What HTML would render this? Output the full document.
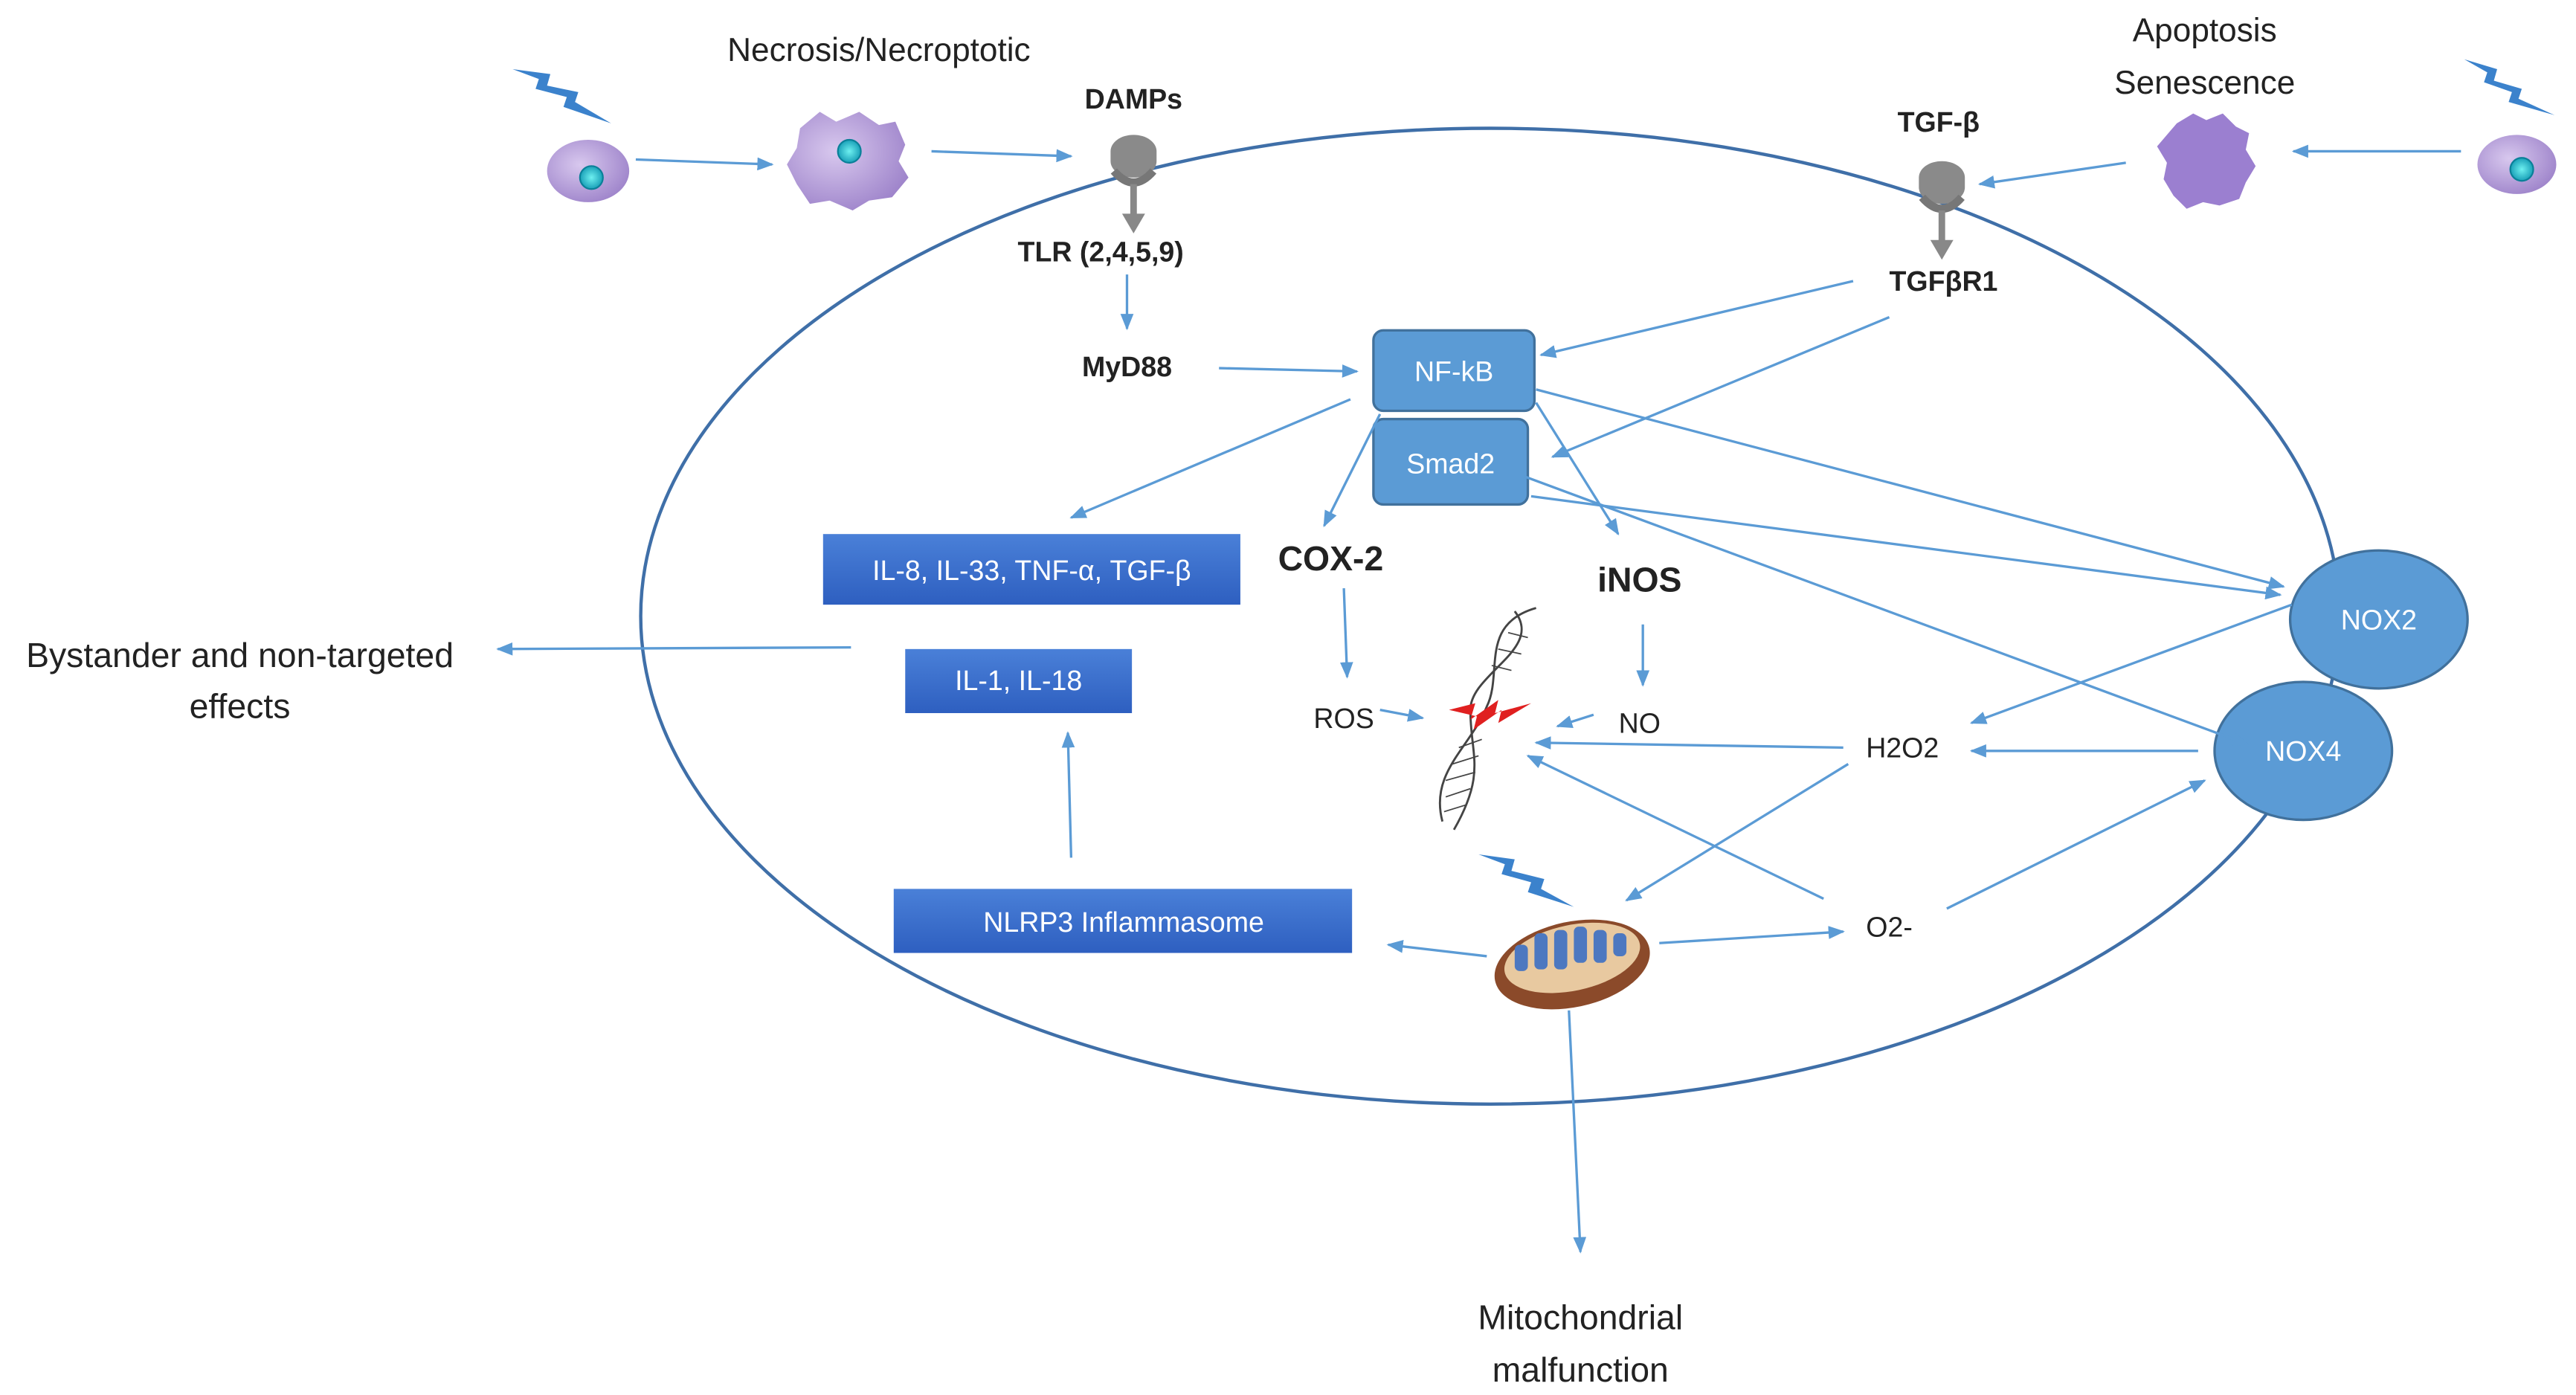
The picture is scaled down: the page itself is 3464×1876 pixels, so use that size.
<!DOCTYPE html>
<html><head><meta charset="utf-8"><style>
html,body{margin:0;padding:0;background:#fff;}
svg{display:block;}
text{font-family:"Liberation Sans","DejaVu Sans",sans-serif;}
</style></head><body>
<svg width="3464" height="1876" viewBox="0 0 1568 849" xmlns="http://www.w3.org/2000/svg">
<defs>
<marker id="a" markerWidth="10" markerHeight="8" refX="9" refY="4" orient="auto" markerUnits="userSpaceOnUse">
<path d="M0,0 L10,4 L0,8 Z" fill="#5b9bd5"/></marker>
<linearGradient id="bx" x1="0" y1="0" x2="0" y2="1"><stop offset="0" stop-color="#4a80d8"/><stop offset="1" stop-color="#2e5fc0"/></linearGradient>
<radialGradient id="cell" cx="0.4" cy="0.4" r="0.7"><stop offset="0" stop-color="#d8c8ee"/><stop offset="1" stop-color="#9a7fc8"/></radialGradient>
<radialGradient id="nuc" cx="0.5" cy="0.5" r="0.5"><stop offset="0" stop-color="#6ef0f0"/><stop offset="1" stop-color="#1aa0b8"/></radialGradient>
</defs>
<rect width="1568" height="849" fill="#fff"/>
<!-- cell membrane -->
<ellipse cx="907" cy="375" rx="517" ry="297" fill="none" stroke="#3f6fa8" stroke-width="2"/>

<!-- boxes -->
<rect x="836" y="201" width="98" height="49" rx="6" fill="#5b9bd5" stroke="#41719c" stroke-width="1.5"/>
<text x="885" y="232" font-size="17" fill="#fff" text-anchor="middle">NF-kB</text>
<rect x="836" y="255" width="94" height="52" rx="6" fill="#5b9bd5" stroke="#41719c" stroke-width="1.5"/>
<text x="883" y="288" font-size="17" fill="#fff" text-anchor="middle">Smad2</text>
<rect x="501" y="325" width="254" height="43" fill="url(#bx)"/>
<text x="628" y="353" font-size="17" fill="#fff" text-anchor="middle">IL-8, IL-33, TNF-α, TGF-β</text>
<rect x="551" y="395" width="138" height="39" fill="url(#bx)"/>
<text x="620" y="420" font-size="17" fill="#fff" text-anchor="middle">IL-1, IL-18</text>
<rect x="544" y="541" width="279" height="39" fill="url(#bx)"/>
<text x="684" y="567" font-size="17" fill="#fff" text-anchor="middle">NLRP3 Inflammasome</text>
<ellipse cx="1448" cy="377" rx="54" ry="42" fill="#5b9bd5" stroke="#41719c" stroke-width="1.5"/>
<text x="1448" y="383" font-size="17" fill="#fff" text-anchor="middle">NOX2</text>
<ellipse cx="1402" cy="457" rx="54" ry="42" fill="#5b9bd5" stroke="#41719c" stroke-width="1.5"/>
<text x="1402" y="463" font-size="17" fill="#fff" text-anchor="middle">NOX4</text>

<!-- texts -->
<g fill="#222">
<text x="535" y="37" font-size="20" text-anchor="middle">Necrosis/Necroptotic</text>
<text x="690" y="66" font-size="17" font-weight="bold" text-anchor="middle">DAMPs</text>
<text x="670" y="159" font-size="17" font-weight="bold" text-anchor="middle">TLR (2,4,5,9)</text>
<text x="686" y="229" font-size="17" font-weight="bold" text-anchor="middle">MyD88</text>
<text x="1180" y="80" font-size="17" font-weight="bold" text-anchor="middle">TGF-β</text>
<text x="1183" y="177" font-size="17" font-weight="bold" text-anchor="middle">TGFβR1</text>
<text x="1342" y="25" font-size="20" text-anchor="middle">Apoptosis</text>
<text x="1342" y="57" font-size="20" text-anchor="middle">Senescence</text>
<text x="810" y="347" font-size="21" font-weight="bold" text-anchor="middle">COX-2</text>
<text x="998" y="360" font-size="21" font-weight="bold" text-anchor="middle">iNOS</text>
<text x="818" y="443" font-size="17" text-anchor="middle">ROS</text>
<text x="998" y="446" font-size="17" text-anchor="middle">NO</text>
<text x="1158" y="461" font-size="17" text-anchor="middle">H2O2</text>
<text x="1150" y="570" font-size="17" text-anchor="middle">O2-</text>
<text x="146" y="406" font-size="21" text-anchor="middle">Bystander and non-targeted</text>
<text x="146" y="437" font-size="21" text-anchor="middle">effects</text>
<text x="962" y="809" font-size="21" text-anchor="middle">Mitochondrial</text>
<text x="962" y="841" font-size="21" text-anchor="middle">malfunction</text>
</g>

<!-- arrows -->
<g stroke="#5b9bd5" stroke-width="1.5" fill="none" marker-end="url(#a)">
<line x1="387" y1="97" x2="470" y2="100"/>
<line x1="567" y1="92" x2="652" y2="95"/>
<line x1="686" y1="167" x2="686" y2="200"/>
<line x1="742" y1="224" x2="826" y2="226"/>
<line x1="1128" y1="171" x2="938" y2="216"/>
<line x1="1150" y1="193" x2="945" y2="278"/>
<line x1="822" y1="243" x2="652" y2="315"/>
<line x1="840" y1="252" x2="806" y2="320"/>
<line x1="935" y1="245" x2="985" y2="325"/>
<line x1="935" y1="237" x2="1390" y2="357"/>
<line x1="932" y1="302" x2="1388" y2="362"/>
<line x1="928" y1="290" x2="1368" y2="453"/>
<line x1="818" y1="358" x2="820" y2="412"/>
<line x1="1000" y1="380" x2="1000" y2="417"/>
<line x1="840" y1="432" x2="866" y2="437"/>
<line x1="970" y1="435" x2="948" y2="442"/>
<line x1="1395" y1="368" x2="1200" y2="440"/>
<line x1="1338" y1="457" x2="1200" y2="457"/>
<line x1="1122" y1="455" x2="935" y2="452"/>
<line x1="1125" y1="465" x2="990" y2="548"/>
<line x1="1110" y1="547" x2="930" y2="460"/>
<line x1="1185" y1="553" x2="1342" y2="475"/>
<line x1="1010" y1="574" x2="1122" y2="567"/>
<line x1="905" y1="582" x2="845" y2="575"/>
<line x1="652" y1="522" x2="650" y2="446"/>
<line x1="955" y1="615" x2="962" y2="762"/>
<line x1="518" y1="394" x2="303" y2="395"/>
<line x1="1294" y1="99" x2="1205" y2="112"/>
<line x1="1498" y1="92" x2="1396" y2="92"/>
</g>

<!-- receptors -->
<g>
<path d="M676,92 a14,10 0 1,1 28,0 l0,6 a14,10 0 0,1 -28,0 z" fill="#8a8a8a"/>
<path d="M678,104 q12,14 24,0" stroke="#777" stroke-width="5" fill="none"/>
<line x1="690" y1="112" x2="690" y2="132" stroke="#888" stroke-width="4"/>
<path d="M683,130 L697,130 L690,142 Z" fill="#888"/>
<path d="M1168,108 a14,10 0 1,1 28,0 l0,6 a14,10 0 0,1 -28,0 z" fill="#8a8a8a"/>
<path d="M1170,120 q12,14 24,0" stroke="#777" stroke-width="5" fill="none"/>
<line x1="1182" y1="128" x2="1182" y2="148" stroke="#888" stroke-width="4"/>
<path d="M1175,146 L1189,146 L1182,158 Z" fill="#888"/>
</g>

<!-- cells -->
<ellipse cx="358" cy="104" rx="25" ry="19" fill="url(#cell)"/>
<circle cx="360" cy="108" r="7" fill="url(#nuc)" stroke="#0a8098"/>
<path d="M487,78 l12,-10 l10,6 l14,-6 l12,8 l10,-2 l6,14 l-4,10 l6,10 l-10,12 l-14,2 l-10,6 l-14,-6 l-12,2 l-8,-12 l-6,-12 l6,-10 z" fill="url(#cell)"/>
<circle cx="517" cy="92" r="7" fill="url(#nuc)" stroke="#0a8098"/>
<path d="M1325,75 l10,-6 l8,4 l10,-4 l8,8 l8,4 l-2,10 l6,10 l-6,10 l-4,10 l-12,4 l-10,-2 l-10,4 l-8,-8 l-6,-10 l2,-10 l-6,-10 z" fill="#9b7fd0"/>
<ellipse cx="1532" cy="100" rx="24" ry="18" fill="url(#cell)"/>
<circle cx="1535" cy="103" r="7" fill="url(#nuc)" stroke="#0a8098"/>

<!-- lightning -->
<g fill="#3b82cc">
<path d="M312,42 L335,45 L333,52 L352,56 L350,62 L372,75 L343,65 L345,59 L326,54 L328,48 Z"/>
<path d="M1500,36 L1520,42 L1518,49 L1535,54 L1533,60 L1555,70 L1527,62 L1529,56 L1512,50 L1514,44 Z"/>
<path d="M900,520 L922,523 L920,530 L940,535 L938,541 L958,552 L930,543 L932,537 L914,532 L916,526 Z"/>
</g>

<!-- DNA -->
<g stroke="#444" stroke-width="1.3" fill="none">
<path d="M935,370 C900,380 915,410 905,430 C895,455 870,470 878,500"/>
<path d="M922,372 C940,395 895,410 895,432 C895,460 905,470 885,505"/>
<g stroke-width="0.8">
<line x1="918" y1="385" x2="930" y2="388"/><line x1="912" y1="395" x2="926" y2="398"/>
<line x1="908" y1="405" x2="920" y2="408"/><line x1="902" y1="450" x2="888" y2="455"/>
<line x1="900" y1="460" x2="884" y2="465"/><line x1="898" y1="470" x2="880" y2="475"/>
<line x1="895" y1="480" x2="880" y2="485"/><line x1="892" y1="490" x2="879" y2="494"/>
</g>
</g>
<path d="M882,432 L898,428 L895,438 L912,426 L910,434 L932,428 L912,440 L914,432 L897,444 L899,436 Z" fill="#e02020"/>

<!-- mitochondrion -->
<ellipse cx="957" cy="587" rx="48" ry="26" transform="rotate(-12 957 587)" fill="#8b4a2a"/>
<ellipse cx="957" cy="583" rx="42" ry="20" transform="rotate(-12 957 583)" fill="#e8c9a0"/>
<g fill="#4d78c0">
<rect x="922" y="575" width="8" height="16" rx="3"/><rect x="934" y="568" width="8" height="22" rx="3"/>
<rect x="946" y="566" width="8" height="24" rx="3"/><rect x="958" y="564" width="8" height="22" rx="3"/>
<rect x="970" y="566" width="8" height="20" rx="3"/><rect x="982" y="568" width="8" height="14" rx="3"/>
</g>
</svg>
</body></html>
